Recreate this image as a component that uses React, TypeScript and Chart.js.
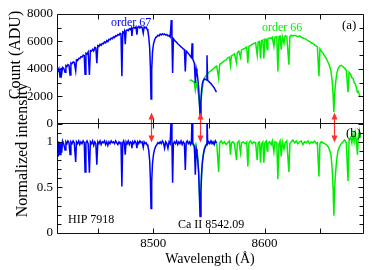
import React, { useEffect, useRef } from 'react';
import { Chart, registerables } from 'chart.js';

Chart.register(...registerables);

type Pt = [number, number];

const FONT = '"Liberation Serif", "Times New Roman", Times, serif';
const BLUE = '#0000ff';
const GREEN = '#00ee00';
const RED = '#ff3030';

const wavelengthMin = 8413.5;
const wavelengthMax = 8688.5;
const wavelengthTicks = [8450, 8500, 8550, 8600, 8650];
const wavelengthLabels = [8500, 8600];
const countTicks = [0, 1000, 2000, 3000, 4000, 5000, 6000, 7000, 8000];
const countLabels = [0, 2000, 4000, 6000, 8000];
const normTicks = [0, 0.1, 0.2, 0.3, 0.4, 0.5, 0.6, 0.7, 0.8, 0.9, 1.0, 1.1, 1.2];
const normLabels = [0, 0.5, 1];
const caLines = [8498.02, 8542.09, 8662.14];

// order 67 (blue), raw counts
const order67Count: Pt[] = [
  [8413.5, 3950], [8414.3, 3880], [8415.2, 4020], [8416.2, 3400], [8417, 4060], [8417.7, 3650], [8418.5, 4110],
  [8419.5, 4050], [8420.7, 3750], [8421.5, 4230], [8422.4, 4170], [8423.3, 4310], [8424.3, 4250], [8425.2, 3550],
  [8426, 4420], [8427, 4380], [8428, 4500], [8429, 4470], [8430.3, 3850], [8431, 4650], [8432, 4600], [8433, 4760],
  [8434, 4740], [8435, 4880], [8436, 4850], [8437, 4990], [8438, 4960], [8438.7, 3600], [8439.5, 5130], [8440.5, 5080],
  [8441.5, 5230], [8442.6, 3550], [8443.5, 5330], [8444.5, 5290], [8445.5, 5420], [8446.5, 5300], [8447.5, 5560],
  [8448.4, 5520], [8449.3, 4400], [8450.2, 5690], [8451.2, 5640], [8452.2, 5790], [8453.2, 5720], [8454.2, 5860],
  [8455.2, 5830], [8456.2, 5960], [8457.2, 5900], [8458.2, 6060], [8459.2, 5980], [8460.2, 6150], [8461.2, 6110],
  [8462.2, 6240], [8463.2, 6190], [8464.2, 6330], [8465.2, 6270], [8466.2, 6420], [8467.2, 6380], [8468.2, 6510],
  [8469.2, 6460], [8470.2, 6590], [8471, 6550], [8471.8, 3450], [8472.6, 6680], [8473.4, 6620], [8474.1, 6760],
  [8474.8, 5800], [8475.6, 6790], [8476.5, 6840], [8477.5, 6780], [8478.5, 6920], [8479.5, 6860], [8480.3, 6980],
  [8480.8, 6400], [8481.5, 6950], [8482.5, 7040], [8483.5, 6960], [8484.5, 7060], [8485.3, 6500], [8486, 7020],
  [8487, 7090], [8488, 6980], [8489, 7080], [8490, 7000], [8491, 6600], [8491.8, 7060], [8492.8, 6990], [8493.6, 7040],
  [8494.4, 6900], [8495.2, 6750], [8496, 6300], [8496.8, 5500], [8497.4, 4200], [8498, 1800], [8498.6, 3900],
  [8499.3, 5200], [8500.2, 5800], [8501.2, 6100], [8502.2, 6280], [8503.2, 6350], [8504.2, 6450], [8505.2, 6400],
  [8506.2, 6530], [8507.2, 6470], [8508.2, 6560], [8509.2, 6490], [8510.2, 6540], [8511.2, 6460], [8512.2, 6500],
  [8513.2, 6400], [8514.2, 6430], [8515.2, 6320], [8516.2, 7560], [8516.8, 6300], [8517.4, 3700], [8518.1, 6200],
  [8519, 6100], [8520, 6000], [8521, 5940], [8522, 5830], [8523, 5760], [8524, 5680], [8525, 5600], [8526, 5540],
  [8527, 5450], [8528, 5400], [8528.8, 3800], [8529.6, 5300], [8530.5, 5220], [8531.5, 5120], [8532.5, 5020],
  [8533.5, 4900], [8534.3, 4820], [8534.9, 5870], [8535.5, 4700], [8536.3, 4550], [8537, 4380], [8537.8, 2950],
  [8538.6, 4000], [8539.3, 3700], [8540, 3300], [8540.8, 2600], [8541.4, 1700], [8542.1, 650], [8542.8, 1600],
  [8543.4, 2400], [8544.1, 2900], [8545, 3150], [8546, 3260], [8547, 3220], [8547.8, 3180], [8548.3, 4990],
  [8548.9, 3150], [8549.8, 3080], [8550.8, 3000], [8551.8, 2920], [8552.8, 2820], [8553.8, 2720], [8554.8, 2600],
  [8555.8, 2450], [8556.8, 2300],
];

// order 66 (green), raw counts
const order66Count: Pt[] = [
  [8532.7, 3150], [8534, 3180], [8535.5, 3100], [8536.8, 3050], [8537.8, 2450], [8538.7, 2950], [8539.8, 2600],
  [8540.8, 2050], [8541.5, 1400], [8542.1, 700], [8542.8, 1500], [8543.6, 2300], [8544.5, 2850], [8545.5, 3250],
  [8546.5, 3400], [8548, 3550], [8549.5, 3700], [8551, 3800], [8552.5, 3900], [8554, 4000], [8555.5, 4120],
  [8557, 4200], [8558.8, 3300], [8559.7, 4320], [8561, 4400], [8562.5, 4480], [8564, 4600], [8565.5, 4650],
  [8567, 4800], [8568.5, 4850], [8569.4, 4250], [8570.3, 4950], [8571.5, 5000], [8573, 5100], [8574.8, 4450],
  [8575.6, 5200], [8577, 5280], [8578.4, 4850], [8579.3, 5380], [8581, 5450], [8582.5, 5500], [8584, 5600],
  [8585, 4400], [8586, 5650], [8587.5, 5700], [8589, 5800], [8590.5, 5850], [8592, 5900], [8593.4, 5000],
  [8594.3, 5950], [8595.5, 6000], [8596.4, 4750], [8597.3, 6050], [8598.5, 6100], [8599.4, 4750], [8600.3, 6150],
  [8601.5, 6150], [8602.4, 5400], [8603, 6200], [8604.5, 6250], [8606, 6220], [8607, 6300], [8608.4, 5650],
  [8609.3, 6300], [8611, 6350], [8612, 3800], [8613, 6350], [8614, 6400], [8615, 5400], [8616, 6350],
  [8617.5, 5850], [8618.5, 6400], [8620, 6380], [8621.9, 4300], [8622.8, 6350], [8624, 6450], [8625.5, 6400],
  [8627, 6450], [8628.5, 6400], [8630, 6350], [8631.5, 6400], [8633, 6300], [8634.5, 6250], [8636, 6200],
  [8637.5, 6150], [8639, 6050], [8640.5, 6000], [8642, 5900], [8643.5, 5850], [8645, 5750], [8646.5, 5650],
  [8647.5, 5600], [8648.9, 3450], [8649.8, 5450], [8651, 5300], [8652.5, 5150], [8654, 4950], [8655.5, 4750],
  [8657, 4500], [8658.5, 4200], [8659.8, 3800], [8660.8, 3100], [8661.6, 2200], [8662.3, 830], [8663, 2200],
  [8663.8, 2900], [8664.8, 3600], [8666, 4000], [8667.5, 4200], [8669, 4250], [8670.5, 4150], [8672, 4050],
  [8673.5, 3900], [8675, 2300], [8676, 3750], [8677.5, 3600], [8678.5, 3350], [8679.5, 3300], [8680.5, 3000],
  [8681.5, 2900], [8682.5, 2650], [8683.5, 2300], [8684.3, 2350], [8685.2, 2100], [8686, 1950],
];

// order 67 (blue), normalized
const order67Norm: Pt[] = [
  [8413.5, 0.99], [8414.1, 1.01], [8414.7, 0.84], [8415.4, 1.0], [8416.2, 0.86], [8417, 0.99], [8417.7, 0.88],
  [8418.5, 1.01], [8419.5, 0.98], [8420.7, 0.91], [8421.5, 1.0], [8422.4, 0.98], [8423.3, 1.01], [8424.3, 0.99],
  [8425.2, 0.86], [8426, 1.0], [8427, 0.98], [8428, 1.01], [8429, 0.99], [8430.3, 0.78], [8431, 1.0], [8432, 0.98],
  [8433, 1.01], [8434, 0.97], [8435, 1.0], [8436, 0.98], [8437, 1.01], [8438, 0.99], [8438.7, 0.67], [8439.5, 0.99],
  [8440.5, 1.01], [8441.5, 0.98], [8442.6, 0.66], [8443.5, 1.0], [8444.5, 0.98], [8445.5, 1.01], [8446.5, 0.96],
  [8447.5, 1.0], [8448.4, 0.98], [8449.3, 0.75], [8450.2, 1.0], [8451.2, 0.98], [8452.2, 1.01], [8453.2, 0.97],
  [8454.2, 1.0], [8455.2, 0.99], [8456.2, 1.01], [8457.2, 0.97], [8458.2, 1.0], [8459.2, 0.96], [8460.2, 1.0],
  [8461.2, 0.98], [8462.2, 1.01], [8463.2, 0.99], [8464.2, 1.0], [8465.2, 0.98], [8466.2, 1.01], [8467.2, 0.99],
  [8468.2, 0.97], [8469.2, 1.0], [8470.2, 0.98], [8471, 1.0], [8471.8, 0.51], [8472.6, 0.99], [8473.4, 1.01],
  [8474.1, 0.98], [8474.8, 0.86], [8475.6, 1.0], [8476.5, 0.98], [8477.5, 1.01], [8478.5, 0.97], [8479.5, 1.0],
  [8480.3, 0.99], [8480.8, 0.93], [8481.5, 1.0], [8482.5, 0.98], [8483.5, 1.01], [8484.5, 0.99], [8485.3, 0.93],
  [8486, 1.0], [8487, 0.98], [8488, 1.01], [8489, 0.99], [8490, 1.0], [8491, 0.94], [8491.8, 1.0], [8492.8, 0.98],
  [8493.6, 0.99], [8494.4, 0.97], [8495.2, 0.95], [8496, 0.9], [8496.8, 0.79], [8497.4, 0.6], [8498, 0.27],
  [8498.6, 0.56], [8499.3, 0.76], [8500.2, 0.86], [8501.2, 0.92], [8502.2, 0.95], [8503.2, 0.97], [8504.2, 0.99],
  [8505.2, 0.98], [8506.2, 1.0], [8507.2, 0.98], [8508.2, 1.01], [8509.2, 0.99], [8510.2, 0.93], [8511.2, 1.0],
  [8512.2, 0.98], [8513.2, 0.93], [8514.2, 1.0], [8515.2, 0.98], [8516.2, 1.3], [8516.8, 0.99], [8517.4, 0.55],
  [8518.1, 0.98], [8519, 1.0], [8520, 0.98], [8521, 1.01], [8522, 0.97], [8523, 1.0], [8524, 0.98], [8525, 1.01],
  [8526, 0.97], [8527, 1.0], [8528, 0.98], [8528.8, 0.69], [8529.6, 0.99], [8530.5, 1.01], [8531.5, 0.98],
  [8532.5, 1.0], [8533.5, 0.97], [8534.3, 0.99], [8534.9, 1.3], [8535.5, 0.99], [8536.3, 0.97], [8537, 0.95],
  [8537.8, 0.64], [8538.6, 0.92], [8539.3, 0.87], [8540, 0.8], [8540.8, 0.66], [8541.4, 0.45], [8542.1, 0.18],
  [8542.8, 0.45], [8543.4, 0.64], [8544.1, 0.77], [8545, 0.86], [8546, 0.92], [8547, 0.95], [8547.8, 0.97],
  [8548.3, 1.3], [8548.9, 0.98], [8549.8, 1.0], [8550.8, 0.98], [8551.8, 1.01], [8552.8, 0.98], [8553.8, 1.0],
  [8554.8, 0.97], [8555.8, 1.01], [8556.8, 0.99],
];

// order 66 (green), normalized
const order66Norm: Pt[] = [
  [8532.7, 0.98], [8534, 1.0], [8535.5, 0.97], [8536.8, 0.95], [8537.8, 0.78], [8538.7, 0.94], [8539.8, 0.86],
  [8540.8, 0.68], [8541.5, 0.45], [8542.1, 0.2], [8542.8, 0.45], [8543.6, 0.68], [8544.5, 0.82], [8545.5, 0.9],
  [8546.5, 0.95], [8548, 0.98], [8549.5, 1.0], [8551, 0.99], [8552.5, 1.01], [8554, 0.98], [8555.5, 1.0],
  [8557, 0.99], [8558.8, 0.67], [8559.7, 0.99], [8561, 1.01], [8562.5, 0.98], [8564, 1.0], [8565.5, 0.97],
  [8567, 0.99], [8568.5, 1.01], [8569.4, 0.86], [8570.3, 0.99], [8571.5, 1.0], [8573, 0.98], [8574.8, 0.8],
  [8575.6, 0.99], [8577, 1.01], [8578.4, 0.88], [8579.3, 0.99], [8581, 1.0], [8582.5, 0.98], [8584, 1.0],
  [8585, 0.73], [8586, 0.99], [8587.5, 1.01], [8589, 0.98], [8590.5, 1.0], [8592, 0.99], [8593.4, 0.8],
  [8594.3, 0.99], [8595.5, 1.0], [8596.4, 0.77], [8597.3, 0.98], [8598.5, 1.0], [8599.4, 0.77], [8600.3, 0.99],
  [8601.5, 1.01], [8602.4, 0.9], [8603, 0.98], [8604.5, 1.0], [8606, 0.97], [8607, 1.01], [8608.4, 0.89],
  [8609.3, 1.0], [8611, 0.99], [8612, 0.59], [8613, 0.98], [8614, 1.01], [8615, 0.84], [8616, 1.0], [8617.5, 0.92],
  [8618.5, 0.99], [8620, 1.01], [8621.9, 0.67], [8622.8, 0.98], [8624, 1.0], [8625.5, 1.02], [8627, 0.99],
  [8628.5, 1.01], [8630, 0.98], [8631.5, 1.0], [8633, 1.01], [8634.5, 0.97], [8636, 1.0], [8637.5, 0.99],
  [8639, 1.01], [8640.5, 0.98], [8642, 1.0], [8643.5, 0.99], [8645, 1.01], [8646.5, 0.98], [8647.5, 0.99],
  [8648.9, 0.62], [8649.8, 0.98], [8651, 1.0], [8652.5, 0.99], [8654, 0.98], [8655.5, 0.97], [8657, 0.95],
  [8658.5, 0.91], [8659.8, 0.85], [8660.8, 0.7], [8661.6, 0.5], [8662.3, 0.19], [8663, 0.5], [8663.8, 0.65],
  [8664.8, 0.8], [8666, 0.9], [8667.5, 0.95], [8669, 0.98], [8670.5, 1.0], [8672, 1.02], [8673.5, 0.99],
  [8675, 0.57], [8676, 1.02], [8677.5, 1.05], [8678.5, 0.99], [8679.5, 1.08], [8680.5, 1.0], [8681.5, 1.1],
  [8682.5, 1.02], [8683.5, 0.86], [8684.3, 1.06], [8685.2, 1.12], [8686, 1.04],
];

const toXY = (pts: Pt[]) => pts.map(([x, y]) => ({ x, y }));

type TextItem = { text: string; x: number; y: number; color: string; size: number; rotate?: boolean; align?: CanvasTextAlign; baseline?: CanvasTextBaseline };

function frameTicksPlugin(yTicks: number[], yMajor: number[]) {
  return {
    id: 'frameTicks',
    afterDraw(chart: any) {
      const { ctx, chartArea: a, scales } = chart;
      const xs = scales.x;
      const ys = scales.y;
      const L = Math.floor(a.left) + 0.5;
      const R = Math.floor(a.right) + 0.5;
      const T = Math.floor(a.top) + 0.5;
      const B = Math.floor(a.bottom) + 0.5;
      ctx.save();
      ctx.strokeStyle = '#111';
      ctx.lineWidth = 1;
      ctx.beginPath();
      ctx.rect(L, T, R - L, B - T);
      for (const v of wavelengthTicks) {
        const px = Math.round(xs.getPixelForValue(v)) + 0.5;
        ctx.moveTo(px, T);
        ctx.lineTo(px, T + 5);
        ctx.moveTo(px, B);
        ctx.lineTo(px, B - 5);
      }
      for (const v of yTicks) {
        const py = Math.round(ys.getPixelForValue(v)) + 0.5;
        const len = yMajor.some((m) => Math.abs(m - v) < 1e-6) ? 5 : 4;
        ctx.moveTo(L, py);
        ctx.lineTo(L + len, py);
        ctx.moveTo(R, py);
        ctx.lineTo(R - len, py);
      }
      ctx.stroke();
      ctx.restore();
    },
  };
}

function textPlugin(items: TextItem[]) {
  return {
    id: 'texts',
    afterDraw(chart: any) {
      const { ctx } = chart;
      ctx.save();
      for (const t of items) {
        ctx.save();
        ctx.font = `${t.size}px ${FONT}`;
        ctx.fillStyle = t.color;
        ctx.textAlign = t.align || 'left';
        ctx.textBaseline = t.baseline || 'alphabetic';
        ctx.translate(t.x, t.y);
        if (t.rotate) ctx.rotate(-Math.PI / 2);
        ctx.fillText(t.text, 0, 0);
        ctx.restore();
      }
      ctx.restore();
    },
  };
}

const arrowPlugin = {
  id: 'caArrows',
  afterDatasetsDraw(chart: any) {
    const { ctx, chartArea: a, scales } = chart;
    const xs = scales.x;
    ctx.save();
    ctx.strokeStyle = RED;
    ctx.fillStyle = RED;
    ctx.lineWidth = 1.2;
    for (const lam of caLines) {
      const px = Math.round(xs.getPixelForValue(lam)) + 0.5;
      const y1 = a.top - 11;
      const y2 = a.top + 19;
      ctx.beginPath();
      ctx.moveTo(px, y1 + 5);
      ctx.lineTo(px, y2 - 5);
      ctx.stroke();
      ctx.beginPath();
      ctx.moveTo(px, y1);
      ctx.lineTo(px - 3, y1 + 7);
      ctx.lineTo(px + 3, y1 + 7);
      ctx.closePath();
      ctx.fill();
      ctx.beginPath();
      ctx.moveTo(px, y2);
      ctx.lineTo(px - 3, y2 - 7);
      ctx.lineTo(px + 3, y2 - 7);
      ctx.closePath();
      ctx.fill();
    }
    ctx.restore();
  },
};

const lineDataset = (pts: Pt[], color: string) => ({
  data: toXY(pts),
  borderColor: color,
  backgroundColor: color,
  borderWidth: 1.5,
  pointRadius: 0,
  tension: 0,
  fill: false,
});

const yAxisBase = (min: number, max: number, ticks: number[], labels: number[]) => ({
  type: 'linear' as const,
  min,
  max,
  afterFit: (s: any) => {
    s.width = 57;
  },
  afterBuildTicks: (s: any) => {
    s.ticks = ticks.map((value) => ({ value }));
  },
  grid: { display: false, drawTicks: false },
  border: { display: false },
  ticks: {
    autoSkip: false,
    padding: 4,
    color: '#000',
    font: { size: 13, family: FONT },
    callback: (v: any) => {
      const n = Number(v);
      const hit = labels.find((l) => Math.abs(l - n) < 1e-6);
      return hit === undefined ? '' : String(hit);
    },
  },
});

export default function App() {
  const topRef = useRef<HTMLCanvasElement | null>(null);
  const botRef = useRef<HTMLCanvasElement | null>(null);

  useEffect(() => {
    Chart.defaults.font.family = FONT;
    Chart.defaults.color = '#000';

    const top = new Chart(topRef.current as HTMLCanvasElement, {
      type: 'line',
      data: { datasets: [lineDataset(order67Count, BLUE), lineDataset(order66Count, GREEN)] as any },
      options: {
        animation: false,
        responsive: false,
        events: [],
        layout: { padding: { top: 14, right: 11, bottom: 146.4, left: 0 } },
        plugins: { legend: { display: false }, tooltip: { enabled: false } },
        scales: {
          x: { type: 'linear', display: false, min: wavelengthMin, max: wavelengthMax },
          y: yAxisBase(0, 8000, countTicks, countLabels) as any,
        },
      },
      plugins: [
        frameTicksPlugin(countTicks, countLabels),
        textPlugin([
          { text: 'Count (ADU)', x: 15.5, y: 55, color: '#000', size: 16, rotate: true, align: 'center', baseline: 'middle' },
          { text: 'order 67', x: 111, y: 26, color: BLUE, size: 12 },
          { text: 'order 66', x: 262, y: 30.5, color: GREEN, size: 12 },
          { text: '(a)', x: 342, y: 29, color: '#000', size: 13 },
        ]),
      ],
    });

    const bot = new Chart(botRef.current as HTMLCanvasElement, {
      type: 'line',
      data: { datasets: [lineDataset(order67Norm, BLUE), lineDataset(order66Norm, GREEN)] as any },
      options: {
        animation: false,
        responsive: false,
        events: [],
        layout: { padding: { top: 123.6, right: 11, bottom: 0, left: 0 } },
        plugins: { legend: { display: false }, tooltip: { enabled: false } },
        scales: {
          x: {
            type: 'linear',
            min: wavelengthMin,
            max: wavelengthMax,
            afterFit: (s: any) => {
              s.height = 37;
            },
            afterBuildTicks: (s: any) => {
              s.ticks = wavelengthTicks.map((value) => ({ value }));
            },
            grid: { display: false, drawTicks: false },
            border: { display: false },
            ticks: {
              autoSkip: false,
              maxRotation: 0,
              padding: 3,
              color: '#000',
              font: { size: 13, family: FONT },
              callback: (v: any) => (wavelengthLabels.includes(Number(v)) ? String(v) : ''),
            },
            title: {
              display: true,
              text: 'Wavelength (Å)',
              color: '#000',
              font: { size: 14, family: FONT },
              padding: { top: 0, bottom: 2 },
            },
          } as any,
          y: yAxisBase(0, 1.2, normTicks, normLabels) as any,
        },
      },
      plugins: [
        frameTicksPlugin(normTicks, normLabels),
        arrowPlugin,
        textPlugin([
          { text: 'Normalized intensity', x: 23, y: 150, color: '#000', size: 16, rotate: true, align: 'center', baseline: 'middle' },
          { text: '(b)', x: 346, y: 137, color: '#000', size: 13 },
          { text: 'HIP 7918', x: 68, y: 223, color: '#000', size: 12 },
          { text: 'Ca II 8542.09', x: 178, y: 228, color: '#000', size: 12 },
        ]),
      ],
    });

    return () => {
      top.destroy();
      bot.destroy();
    };
  }, []);

  return (
    <div style={{ position: 'fixed', left: 0, top: 0, width: 374, height: 270, background: '#fff' }}>
      <canvas ref={topRef} width={374} height={270} style={{ position: 'absolute', left: 0, top: 0, width: 374, height: 270 }} />
      <canvas ref={botRef} width={374} height={270} style={{ position: 'absolute', left: 0, top: 0, width: 374, height: 270 }} />
    </div>
  );
}
